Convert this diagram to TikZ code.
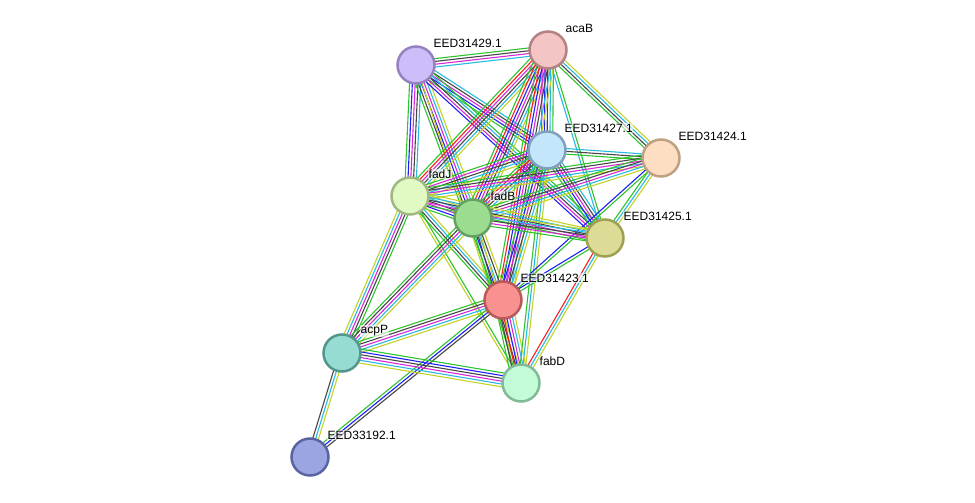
\documentclass[tikz,border=0pt]{standalone}
\usepackage{fontspec}
\setmainfont{Liberation Sans}
\usetikzlibrary{calc}
\pgfdeclarelayer{background}
\pgfsetlayers{background,main}
\definecolor{gn}{RGB}{45,195,45}
\definecolor{rd}{RGB}{250,30,30}
\definecolor{bl}{RGB}{30,30,250}
\definecolor{cy}{RGB}{40,185,225}
\definecolor{mg}{RGB}{215,40,215}
\definecolor{yg}{RGB}{195,210,40}
\definecolor{bk}{RGB}{70,70,70}
\newcommand\bundle[4]{%
  \foreach \c [count=\i] in {#4}{%
    \pgfmathsetmacro\off{(\i-(#3+1)/2)*2.8}%
    \draw[\c,line width=1.1pt] ($(#1.center)!\off pt!90:(#2.center)$) -- ($(#2.center)!\off pt!-90:(#1.center)$);
  }%
}
\tikzset{
  prot/.style={circle,minimum size=37pt,inner sep=0pt,line width=2.5pt},
  lbl/.style={anchor=west,font=\fontsize{12}{14}\selectfont,inner sep=0.5pt,fill=white,fill opacity=0.6,text opacity=1},
}
\begin{document}
\begin{tikzpicture}[x=1pt,y=-1pt]
\useasboundingbox (0,0) rectangle (975,503);
\node[prot,fill={rgb,255:red,205;green,190;blue,250},draw={rgb,255:red,150;green,130;blue,190}] (A) at (416,65) {};
\node[prot,fill={rgb,255:red,245;green,197;blue,197},draw={rgb,255:red,180;green,130;blue,130}] (B) at (548,50) {};
\node[prot,fill={rgb,255:red,195;green,230;blue,250},draw={rgb,255:red,130;green,160;blue,190}] (C) at (547,150) {};
\node[prot,fill={rgb,255:red,253;green,222;blue,195},draw={rgb,255:red,190;green,160;blue,130}] (D) at (661,158) {};
\node[prot,fill={rgb,255:red,225;green,250;blue,195},draw={rgb,255:red,160;green,185;blue,130}] (J) at (410,196) {};
\node[prot,fill={rgb,255:red,155;green,220;blue,145},draw={rgb,255:red,100;green,160;blue,95}] (F) at (473,218) {};
\node[prot,fill={rgb,255:red,220;green,220;blue,150},draw={rgb,255:red,160;green,160;blue,85}] (E) at (605,238) {};
\node[prot,fill={rgb,255:red,250;green,145;blue,145},draw={rgb,255:red,185;green,90;blue,90}] (R) at (503,300) {};
\node[prot,fill={rgb,255:red,150;green,220;blue,210},draw={rgb,255:red,85;green,150;blue,140}] (P) at (342,353) {};
\node[prot,fill={rgb,255:red,195;green,250;blue,215},draw={rgb,255:red,130;green,185;blue,150}] (Q) at (521,383) {};
\node[prot,fill={rgb,255:red,155;green,165;blue,225},draw={rgb,255:red,90;green,100;blue,160}] (G) at (310,457) {};
\begin{pgfonlayer}{background}
\bundle{A}{B}{4}{cy,mg,bk,gn}
\bundle{A}{J}{5}{gn,bl,mg,bk,cy}
\bundle{A}{F}{6}{gn,bk,bl,mg,cy,yg}
\bundle{A}{C}{5}{gn,bl,mg,bk,cy}
\bundle{A}{E}{5}{bl,mg,bk,cy,gn}
\bundle{A}{Q}{1}{yg}
\bundle{B}{J}{6}{gn,rd,mg,bk,cy,yg}
\bundle{B}{F}{7}{gn,rd,bl,mg,bk,cy,yg}
\bundle{B}{C}{5}{mg,bl,bk,cy,gn}
\bundle{B}{D}{4}{gn,bk,cy,yg}
\bundle{B}{E}{2}{cy,gn}
\bundle{B}{R}{7}{gn,rd,bl,mg,bk,cy,yg}
\bundle{C}{D}{3}{gn,bk,cy}
\bundle{C}{J}{5}{gn,mg,bk,cy,yg}
\bundle{C}{F}{6}{gn,rd,mg,bk,cy,yg}
\bundle{C}{E}{5}{gn,bl,mg,bk,cy}
\bundle{C}{R}{6}{gn,bl,mg,bk,cy,yg}
\bundle{C}{Q}{3}{gn,cy,yg}
\bundle{D}{J}{5}{gn,bk,mg,cy,yg}
\bundle{D}{F}{5}{gn,bk,mg,cy,yg}
\bundle{D}{E}{3}{gn,cy,yg}
\bundle{D}{R}{2}{bl,gn}
\bundle{J}{F}{6}{gn,bl,mg,bk,cy,yg}
\bundle{J}{E}{5}{gn,mg,bk,cy,yg}
\bundle{J}{R}{4}{gn,bk,cy,yg}
\bundle{J}{P}{5}{yg,cy,mg,bk,gn}
\bundle{J}{Q}{2}{yg,gn}
\bundle{F}{E}{5}{gn,mg,bk,cy,yg}
\bundle{F}{R}{5}{gn,bl,cy,bk,yg}
\bundle{F}{P}{5}{gn,bk,mg,cy,yg}
\bundle{F}{Q}{3}{gn,bk,yg}
\bundle{E}{R}{2}{bl,gn}
\bundle{E}{Q}{3}{rd,cy,yg}
\bundle{R}{P}{5}{gn,bk,mg,cy,yg}
\bundle{R}{Q}{7}{gn,bk,rd,bl,mg,cy,yg}
\bundle{R}{G}{3}{gn,bl,bk}
\bundle{P}{Q}{6}{yg,cy,mg,bk,bl,gn}
\bundle{P}{G}{3}{bk,cy,yg}
\end{pgfonlayer}
\node[lbl] (lA) at ($(A)+(17,-22)$) {EED31429.1};
\node[lbl] (lB) at ($(B)+(17,-22)$) {acaB};
\node[lbl] (lC) at ($(C)+(17,-22)$) {EED31427.1};
\node[lbl] (lD) at ($(D)+(17,-22)$) {EED31424.1};
\node[lbl] (lJ) at ($(J)+(18,-22)$) {fadJ};
\node[lbl] (lF) at ($(F)+(17,-22)$) {fadB};
\node[lbl] (lE) at ($(E)+(18,-22)$) {EED31425.1};
\node[lbl] (lR) at ($(R)+(17,-22)$) {EED31423.1};
\node[lbl] (lP) at ($(P)+(18,-22)$) {acpP};
\node[lbl] (lQ) at ($(Q)+(18,-22)$) {fabD};
\node[lbl] (lG) at ($(G)+(17,-22)$) {EED33192.1};
\end{tikzpicture}
\end{document}
